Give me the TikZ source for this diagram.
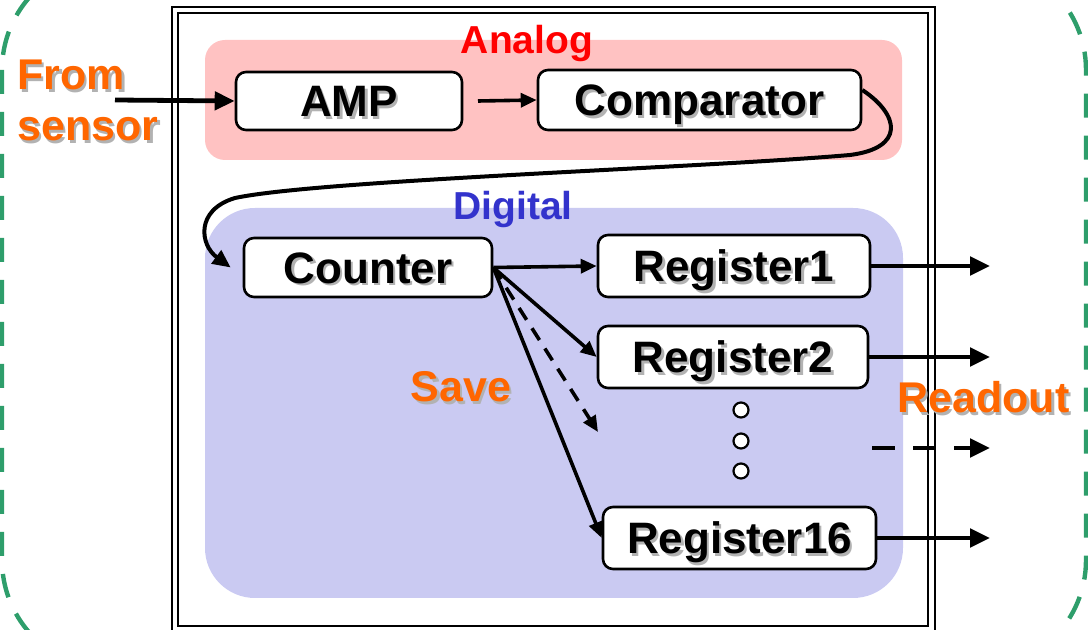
\documentclass[tikz,border=0pt]{standalone}
\usepackage{fontspec}
\setmainfont{Liberation Sans}
\usetikzlibrary{arrows.meta}

\definecolor{sgreen}{RGB}{46,158,107}
\definecolor{lblorange}{RGB}{255,102,0}
\definecolor{digblue}{RGB}{51,51,204}

% text with a soft grey drop shadow
\newcommand{\shtxt}[1]{\rlap{\kern1.2pt\raisebox{-1.2pt}{\textcolor{black!30}{#1}}}#1}

\begin{document}
\begin{tikzpicture}[x=0.5pt,y=-0.5pt,
  blk/.style={draw,line width=1.3pt,rounded corners=5pt,fill=white,inner sep=0pt,
    font=\fontsize{22}{24}\selectfont\bfseries,text height=15.8pt,text depth=0pt},
  lbl/.style={font=\fontsize{21.5}{25.5}\selectfont\bfseries,text=lblorange,inner sep=0pt},
  part/.style={font=\fontsize{19.5}{22}\selectfont\bfseries,inner sep=0pt},
  fat/.style={line width=2.4pt,-{Triangle[length=10pt,width=9pt]}},
  thin/.style={line width=1.8pt,-{Triangle[length=8pt,width=7pt]}},
  dot/.style={circle,draw,fill=white,line width=1.1pt,minimum size=7.5pt,inner sep=0pt}]

\useasboundingbox (0,0) rectangle (1088,630);

% detector boundary
\draw[sgreen,line width=2.2pt,dash pattern=on 12pt off 9pt,rounded corners=55pt]
  (2,-40) rectangle (1086,670);

% chip frame
\draw[line width=1.3pt] (172,7) rectangle (935,632);
\draw[line width=1.3pt] (178,13) rectangle (928,626);

% analog and digital parts
\fill[red!24,rounded corners=10pt] (205,40) rectangle (902,160);
\fill[digblue!26,rounded corners=25pt] (205,208) rectangle (903,598);
\node[part,text=red,anchor=base] (analog) at (527,54) {Analog};
\node[part,text=digblue,anchor=base] (digital) at (513,220) {Digital};

% blocks
\node[blk,minimum width=113pt,minimum height=29pt] (amp) at (349,101) {\shtxt{AMP}};
\node[blk,minimum width=161.5pt,minimum height=30pt] (comp) at (699.5,100) {\shtxt{Comparator}};
\node[blk,minimum width=124pt,minimum height=29.5pt] (counter) at (368,267.5) {\shtxt{Counter}};
\node[blk,minimum width=136pt,minimum height=31pt] (reg1) at (734,266) {\shtxt{Register1}};
\node[blk,minimum width=135pt,minimum height=31pt] (reg2) at (733,357) {\shtxt{Register2}};
\node[blk,minimum width=136.5pt,minimum height=31pt] (reg16) at (739.5,538) {\shtxt{Register16}};

\node[dot] (d1) at (741,410) {};
\node[dot] (d2) at (741,441) {};
\node[dot] (d3) at (741,471) {};

% labels
\node[lbl,anchor=north west,align=left] (from) at (17,60) {\shtxt{From}\\\shtxt{sensor}};
\node[lbl,anchor=base] (save) at (461,402) {\shtxt{Save}};
\node[lbl,anchor=base] (readout) at (983.5,413) {\shtxt{Readout}};

% signal path
\coordinate (sensor) at (115,100);
\draw[fat] (sensor) -- (amp.west);
\draw[thin] (478,101) coordinate (ampout) -- (comp.west);
\draw[line width=2pt,-{Triangle[length=9pt,width=8pt]}] ([yshift=5pt]comp.east)
  .. controls (900,115) and (905,148) .. (850,155)
  .. controls (700,168) and (320,180) .. (235,198)
  .. controls (195,210) and (200,245) .. ([xshift=-6pt]counter.west);

% save into registers
\coordinate (fan) at (counter.east);
\coordinate (regn) at (598,432);
\draw[thin] (fan) -- (reg1.west);
\draw[thin] (fan) -- (reg2.west);
\draw[thin,dash pattern=on 7pt off 5pt] (fan) -- (regn);
\draw[thin] (fan) -- (reg16.west);

% readout
\coordinate (o1) at (990,266);
\coordinate (o2) at (990,357);
\coordinate (ds) at (872,448);
\coordinate (o3) at (990,448);
\coordinate (o16) at (990,538);
\draw[fat] (reg1.east) -- (o1);
\draw[fat] (reg2.east) -- (o2);
\draw[fat,dash pattern=on 11.5pt off 9pt] (ds) -- (o3);
\draw[fat] (reg16.east) -- (o16);
\end{tikzpicture}
\end{document}
